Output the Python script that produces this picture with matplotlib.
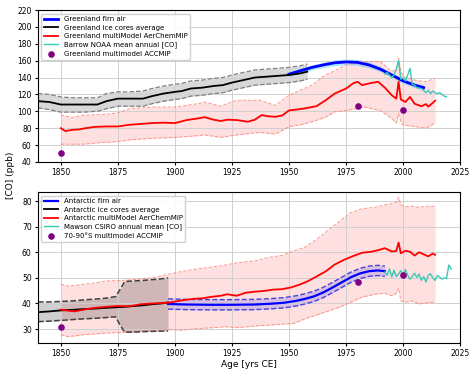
import numpy as np
import matplotlib
matplotlib.use('Agg')
import matplotlib.pyplot as plt

# Greenland
gl_ice_yr = [1840, 1845, 1850, 1855, 1860, 1866, 1870, 1875, 1880, 1886,
             1890, 1895, 1900, 1903, 1907, 1912, 1917, 1921, 1925, 1930,
             1935, 1940, 1945, 1950, 1955, 1958]
gl_ice = [112, 111, 108, 108, 108, 108, 112, 115, 115, 115,
          118, 121, 123, 124, 127, 128, 130, 131, 134, 137,
          140, 141, 142, 143, 145, 147]
gl_ice_hi = [121, 120, 117, 116, 116, 116, 121, 123, 123, 124,
             127, 130, 132, 133, 136, 137, 139, 140, 143, 146,
             149, 150, 151, 152, 154, 156]
gl_ice_lo = [104, 102, 99, 99, 99, 100, 103, 106, 106, 106,
             109, 112, 114, 115, 118, 119, 121, 122, 125, 128,
             131, 132, 133, 134, 136, 138]

gl_firn_yr = [1950, 1955, 1960, 1965, 1970, 1975, 1980, 1985, 1990, 1995, 2000, 2005, 2009]
gl_firn = [144, 148, 152, 155, 157.5, 158.5, 158, 155, 150, 143, 136, 131, 128]
gl_firn_hi = [147, 151, 155, 158, 161, 162, 161.5, 158.5, 153, 146, 139, 134, 131]
gl_firn_lo = [141, 145, 149, 152, 154, 155, 154.5, 151.5, 147, 140, 133, 128, 125]

gl_brw_yr = [1992, 1993, 1995, 1996, 1997, 1998, 1999, 2000, 2001, 2002,
             2003, 2004, 2005, 2006, 2008, 2010, 2011, 2012, 2013, 2014,
             2015, 2016, 2017, 2018, 2019]
gl_brw = [144, 146, 140, 143, 150, 160, 138, 140, 136, 143,
          151, 132, 131, 128, 127, 122, 125, 121, 124, 122,
          121, 122, 120, 118, 117]

gl_mod_yr = [1850, 1852, 1855, 1858, 1861, 1865, 1870, 1875, 1880, 1885,
             1890, 1895, 1900, 1905, 1910, 1913, 1917, 1920, 1923, 1927,
             1932, 1935, 1938, 1941, 1944, 1947, 1950, 1956, 1962, 1966,
             1970, 1975, 1978, 1980, 1982, 1985, 1989, 1992, 1995, 1997,
             1998, 1999, 2001, 2003, 2005, 2008, 2010, 2011, 2013, 2014]
gl_mod = [80, 76.5, 78, 78.5, 80, 81.5, 82, 82, 84, 85,
          86, 86.5, 86, 89.5, 91.5, 93, 90, 88.5, 90, 89.6,
          87.6, 90, 95.5, 94, 93.5, 95, 101, 103, 106, 113,
          121, 127, 133, 135, 131, 133, 135, 128, 119, 115,
          135, 114, 111, 117, 109, 106, 108.5, 105.5, 110, 112.5]

gl_band_yr = [1850, 1855, 1860, 1868, 1875, 1880, 1890, 1900, 1910, 1913,
              1920, 1927, 1937, 1944, 1950, 1955, 1960, 1966, 1970, 1975,
              1983, 1990, 1995, 1997, 1998, 1999, 2000, 2005, 2010, 2014]
gl_band_hi = [95.5, 92.7, 95.5, 96, 98, 103, 105, 105, 109, 111,
              106, 113, 113, 107, 119, 125, 131, 143, 148, 155,
              159, 159, 147, 150, 163, 148, 141, 137, 135, 139]
gl_band_lo = [61, 61, 61, 63, 64, 66, 68, 69, 71, 72,
              69, 72, 75, 73, 81.7, 84, 87.6, 93, 99.5, 101,
              105, 101, 91.5, 86, 97, 88, 83.6, 82, 80, 86]

accmip_yr = [1850, 1980, 2000]
gl_accmip = [51, 106, 102]

# Antarctica
an_ice_yr = [1840, 1845, 1850, 1855, 1860, 1865, 1870, 1874, 1876, 1878, 1882, 1886, 1890, 1894, 1897]
an_ice = [36.6, 36.9, 37.3, 37.5, 37.8, 38.0, 38.3, 38.5, 38.6, 38.7, 39.0, 39.3, 39.7, 40.0, 40.4]
an_ice_hi = [40.6, 40.6, 40.8, 41.0, 41.4, 41.7, 42.1, 42.7, 45.5, 48.6, 48.8, 49.0, 49.3, 49.6, 50.0]
an_ice_lo = [32.9, 33.1, 33.4, 33.7, 34.0, 34.2, 34.5, 34.8, 31.5, 28.8, 28.8, 29.0, 29.1, 29.2, 29.3]

an_firn_yr = [1897, 1905, 1915, 1925, 1935, 1942, 1948, 1953, 1957, 1961,
              1965, 1969, 1973, 1977, 1981, 1985, 1989, 1992]
an_firn = [39.8, 39.6, 39.5, 39.5, 39.6, 39.9, 40.3, 41.0, 41.8, 42.8,
           44.3, 46.2, 48.2, 50.2, 51.7, 52.6, 52.9, 52.6]
an_firn_hi = [41.8, 41.6, 41.5, 41.5, 41.6, 41.9, 42.3, 43.0, 43.8, 44.8,
              46.3, 48.2, 50.2, 52.2, 53.7, 54.6, 54.9, 54.6]
an_firn_lo = [37.8, 37.6, 37.5, 37.5, 37.6, 37.9, 38.3, 39.0, 39.8, 40.8,
              42.3, 44.2, 46.2, 48.2, 49.7, 50.6, 50.9, 50.6]

an_maw_yr = list(range(1992, 2022))
an_maw = [52.3, 51.0, 53.5, 50.3, 53.0, 50.5, 51.5, 52.8, 50.6, 53.3,
          51.0, 49.5, 50.5, 51.8, 50.2, 51.5, 49.0, 50.5, 48.4, 51.0,
          51.6, 50.0, 49.0, 51.0, 50.3, 49.5, 50.0, 49.7, 55.0, 53.5]

an_mod_yr = [1850, 1853, 1856, 1860, 1865, 1870, 1875, 1880, 1885, 1890,
             1895, 1898, 1903, 1908, 1912, 1916, 1920, 1923, 1927, 1931,
             1935, 1939, 1943, 1947, 1951, 1955, 1958, 1962, 1966, 1970,
             1974, 1978, 1982, 1986, 1989, 1992, 1995, 1997, 1998, 1999,
             2001, 2003, 2005, 2007, 2009, 2011, 2013, 2014]
an_mod = [37.6, 37.2, 36.9, 37.6, 38.3, 38.7, 39.0, 38.9, 39.7, 40.0,
          40.2, 40.4, 41.2, 41.8, 42.0, 42.6, 43.0, 43.6, 43.0, 44.2,
          44.6, 44.9, 45.4, 45.6, 46.3, 47.5, 48.6, 50.5, 52.5, 55.2,
          57.0, 58.5, 59.8, 60.2, 60.8, 61.6, 60.3, 60.5, 63.8, 59.6,
          60.6, 60.2, 58.7, 60.0, 59.2, 58.4, 59.5, 59.0]

an_band_yr = [1850, 1853, 1856, 1860, 1865, 1870, 1875, 1880, 1885, 1890,
              1897, 1903, 1910, 1916, 1922, 1928, 1935, 1941, 1947, 1952,
              1957, 1962, 1967, 1972, 1977, 1982, 1987, 1992, 1995, 1997,
              1998, 1999, 2001, 2004, 2007, 2010, 2014]
an_band_hi = [47.5, 46.8, 47.0, 47.5, 48.0, 48.8, 48.9, 49.2, 49.6, 50.0,
              51.4, 52.5, 53.5, 54.2, 55.0, 56.0, 56.6, 58.0, 58.8, 60.5,
              62.0, 65.0, 68.5, 72.0, 75.5, 77.0, 77.5, 78.5, 79.0, 79.5,
              81.5, 78.5, 77.8, 78.0, 77.5, 78.0, 78.0]
an_band_lo = [27.8, 27.1, 27.3, 27.8, 28.1, 28.5, 28.6, 28.9, 29.2, 29.4,
              29.8, 29.6, 30.2, 30.5, 30.9, 30.6, 31.2, 31.5, 31.9, 32.2,
              34.0, 35.5, 37.0, 38.5, 40.5, 42.5, 43.5, 44.0, 43.0, 44.0,
              46.0, 41.0, 40.5, 41.0, 39.8, 40.2, 40.5]
an_accmip = [30.9, 48.3, 51]

plt.rcParams['font.size'] = 5.5

fig = plt.figure(figsize=(4.72, 3.73), dpi=100)
ax1 = fig.add_axes([0.0805, 0.566, 0.8945, 0.407])
ax2 = fig.add_axes([0.0805, 0.080, 0.8945, 0.405])

cyan = '#3cc8b4'

# top panel
ax1.fill_between(gl_ice_yr, gl_ice_lo, gl_ice_hi, color='gray', alpha=0.3, lw=0)
ax1.plot(gl_ice_yr, gl_ice_hi, '--', color='#808080', lw=0.9)
ax1.plot(gl_ice_yr, gl_ice_lo, '--', color='#808080', lw=0.9)
ax1.fill_between(gl_band_yr, gl_band_lo, gl_band_hi, color='red', alpha=0.12, lw=0)
ax1.plot(gl_band_yr, gl_band_hi, '--', color='salmon', lw=0.7, alpha=0.8)
ax1.plot(gl_band_yr, gl_band_lo, '--', color='salmon', lw=0.7, alpha=0.8)
ax1.fill_between(gl_firn_yr, gl_firn_lo, gl_firn_hi, color='deepskyblue', alpha=0.35, lw=0)
h1, = ax1.plot(gl_firn_yr, gl_firn, color='blue', lw=2.0, label='Greenland firn air')
h2, = ax1.plot(gl_ice_yr, gl_ice, color='black', lw=1.3, label='Greenland ice cores average')
h3, = ax1.plot(gl_mod_yr, gl_mod, color='red', lw=1.3, label='Greenland multiModel AerChemMIP')
h4, = ax1.plot(gl_brw_yr, gl_brw, color=cyan, lw=1.0, label='Barrow NOAA mean annual [CO]')
h5 = ax1.scatter(accmip_yr, gl_accmip, color='purple', s=14, zorder=5, label='Greenland multimodel ACCMIP')
ax1.legend(handles=[h1, h2, h3, h4, h5], loc='upper left', fontsize=5, handlelength=2.0,
           borderpad=0.4, labelspacing=0.35, framealpha=0.9)
ax1.set_xlim(1840, 2025)
ax1.set_ylim(40, 220)
ax1.set_yticks(np.arange(40, 221, 20))
ax1.set_xticks(np.arange(1850, 2026, 25))
ax1.grid(True, color='#d0d0d0', lw=0.7)

# bottom panel
ax2.fill_between(an_band_yr, an_band_lo, an_band_hi, color='red', alpha=0.12, lw=0)
ax2.plot(an_band_yr, an_band_hi, '--', color='salmon', lw=0.7, alpha=0.8)
ax2.plot(an_band_yr, an_band_lo, '--', color='salmon', lw=0.7, alpha=0.8)
ax2.fill_between(an_ice_yr, an_ice_lo, an_ice_hi, color='#404040', alpha=0.25, lw=0)
ax2.plot(an_ice_yr, an_ice_hi, '--', color='#404040', lw=1.1)
ax2.plot(an_ice_yr, an_ice_lo, '--', color='#404040', lw=1.1)
ax2.fill_between(an_firn_yr, an_firn_lo, an_firn_hi, color='blue', alpha=0.15, lw=0)
ax2.plot(an_firn_yr, an_firn_hi, '--', color='#4444dd', lw=1.0)
ax2.plot(an_firn_yr, an_firn_lo, '--', color='#4444dd', lw=1.0)
g1, = ax2.plot(an_firn_yr, an_firn, color='blue', lw=1.6, label='Antarctic firn air')
g2, = ax2.plot(an_ice_yr, an_ice, color='black', lw=1.3, label='Antarctic ice cores average')
g3, = ax2.plot(an_mod_yr, an_mod, color='red', lw=1.3, label='Antarctic multiModel AerChemMIP')
g4, = ax2.plot(an_maw_yr, an_maw, color=cyan, lw=1.0, label='Mawson CSIRO annual mean [CO]')
g5 = ax2.scatter(accmip_yr, an_accmip, color='purple', s=14, zorder=5, label='70-90°S multimodel ACCMIP')
ax2.legend(handles=[g1, g2, g3, g4, g5], loc='upper left', fontsize=5, handlelength=2.0,
           borderpad=0.4, labelspacing=0.35, framealpha=0.9)
ax2.set_xlim(1840, 2025)
ax2.set_ylim(24.5, 83.5)
ax2.set_yticks(np.arange(30, 81, 10))
ax2.set_xticks(np.arange(1850, 2026, 25))
ax2.grid(True, color='#d0d0d0', lw=0.7)
ax2.set_xlabel('Age [yrs CE]', fontsize=6.5, labelpad=1)

for ax in (ax1, ax2):
    ax.tick_params(labelsize=5.5, length=2.5, pad=2)

fig.text(0.022, 0.53, '[CO] (ppb)', rotation=90, fontsize=6.5, ha='center', va='center')

fig.savefig('out.png', dpi=100)
